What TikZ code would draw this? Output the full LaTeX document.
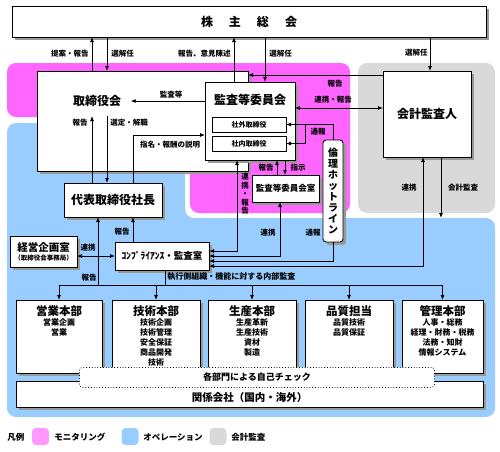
\documentclass[tikz,border=0pt]{standalone}
\usepackage{fontspec}
\setmainfont{Noto Sans CJK JP}
\usetikzlibrary{arrows.meta,shadows}

\definecolor{monpink}{RGB}{255,102,255}
\definecolor{legpink}{RGB}{255,153,255}
\definecolor{opblue}{RGB}{153,204,255}
\definecolor{audgrey}{RGB}{217,217,217}

\newcommand{\orgbig}{\fontsize{12}{14}\selectfont\bfseries}
\newcommand{\orgsmall}{\fontsize{7.5}{9}\selectfont\bfseries}

\tikzset{
  wh/.style 2 args={minimum width=#1pt, minimum height=#2pt},
  orgbox/.style={draw, fill=white, line width=0.9pt, inner sep=0pt, outer sep=0pt,
    anchor=north west, drop shadow={shadow xshift=3pt, shadow yshift=-3pt, fill=black!40, opacity=1}},
  subbox/.style={draw, fill=white, line width=0.8pt, inner sep=0pt, outer sep=0pt, anchor=north west,
    font=\fontsize{7}{8}\selectfont\bfseries},
  lbl/.style={font=\orgsmall, inner sep=0pt},
  divtitle/.style={font=\fontsize{11.5}{13}\selectfont\bfseries, inner sep=0pt},
  divitem/.style={anchor=north, align=center, inner sep=0pt, font=\fontsize{8}{10}\selectfont\bfseries},
  swatch/.style={minimum size=17pt, inner sep=0pt, rounded corners=4pt},
  legtext/.style={anchor=west, inner sep=0pt, font=\fontsize{8.5}{10}\selectfont\bfseries}
}

\begin{document}
\begin{tikzpicture}[x=1pt, y=-1pt, line width=0.8pt, >={Latex[length=5pt,width=4pt]}]
  \useasboundingbox (0,0) rectangle (500,451);

  % areas
  \fill[opblue, rounded corners=9pt] (7,123) -- (185,123) -- (185,218) -- (495,218) -- (495,417) -- (7,417) -- cycle;
  \fill[monpink, rounded corners=9pt] (7,63) -- (350,63) -- (350,213) -- (190,213) -- (190,117) -- (7,117) -- cycle;
  \fill[audgrey, rounded corners=9pt] (358,63) rectangle (495,213);

  % boxes
  \node[orgbox, wh={474}{31}, font=\orgbig] (soukai) at (12,6) {株\hspace{16pt}主\hspace{16pt}総\hspace{16pt}会};
  \node[orgbox, wh={211}{100}] (board) at (37,71) {};
  \node[font=\orgbig] (board-t) at (97,101) {取締役会};
  \node[orgbox, wh={90}{78}] (kansa) at (205,82) {};
  \node[font=\orgbig, inner sep=0pt] (kansa-t) at (250,100) {監査等委員会};
  \node[subbox, wh={74}{15}] (shagai) at (212,117) {社外取締役};
  \node[subbox, wh={74}{15}] (shanai) at (212,136) {社内取締役};
  \node[orgbox, wh={88}{86}, font=\orgbig] (kaikei) at (383,71) {会計監査人};
  \node[orgbox, wh={67}{27}, font=\fontsize{8.5}{10}\selectfont\bfseries] (iinkaishitsu) at (252,175) {監査等委員会室};
  \node[orgbox, wh={20}{102}, rounded corners=3pt, align=center,
    font=\fontsize{10}{11}\selectfont\bfseries] (hotline) at (323,140) {倫\\理\\ホ\\ッ\\ト\\ラ\\イ\\ン};
  \node[orgbox, wh={98}{34}, font=\orgbig] (shacho) at (64,183) {代表取締役社長};
  \node[orgbox, wh={67}{31}, align=center] (kikaku) at (10,236)
    {{\fontsize{10.5}{12}\selectfont\bfseries 経営企画室}\\[-3pt]{\fontsize{6.5}{8}\selectfont\bfseries （取締役会事務局）}};
  \node[orgbox, wh={94}{28}, font=\fontsize{9.5}{11}\selectfont\bfseries] (comp) at (115,242) {ｺﾝﾌﾟﾗｲｱﾝｽ・監査室};

  % divisions
  \node[orgbox, wh={86}{73}] (eigyo) at (16,300) {};
  \node[orgbox, wh={88}{73}] (gijutsu) at (112,300) {};
  \node[orgbox, wh={88}{73}] (seisan) at (208,300) {};
  \node[orgbox, wh={88}{73}] (hinshitsu) at (305,300) {};
  \node[orgbox, wh={81}{73}] (kanri) at (402,300) {};
  \node[divtitle] (eigyo-t) at ([yshift=-11pt]eigyo.north) {営業本部};
  \node[divitem] (eigyo-i) at ([yshift=-18pt]eigyo.north) {営業企画\\営業};
  \node[divtitle] (gijutsu-t) at ([yshift=-11pt]gijutsu.north) {技術本部};
  \node[divitem] (gijutsu-i) at ([yshift=-18pt]gijutsu.north) {技術企画\\技術管理\\安全保証\\商品開発\\技術};
  \node[divtitle] (seisan-t) at ([yshift=-11pt]seisan.north) {生産本部};
  \node[divitem] (seisan-i) at ([yshift=-18pt]seisan.north) {生産革新\\生産技術\\資材\\製造};
  \node[divtitle] (hinshitsu-t) at ([yshift=-11pt]hinshitsu.north) {品質担当};
  \node[divitem] (hinshitsu-i) at ([yshift=-18pt]hinshitsu.north) {品質技術\\品質保証};
  \node[divtitle] (kanri-t) at ([yshift=-11pt]kanri.north) {管理本部};
  \node[divitem] (kanri-i) at ([yshift=-18pt]kanri.north) {人事・総務\\経理・財務・税務\\法務・知財\\情報システム};

  \node[orgbox, wh={467}{26}] (kankei) at (16,381) {};
  \node[font=\fontsize{10.5}{12}\selectfont\bfseries, inner sep=0pt] (kankei-t) at ([yshift=-3pt]kankei.center) {関係会社（国内・海外）};
  \node[draw, dotted, fill=white, rounded corners=3pt, anchor=north west, wh={355}{20}, inner sep=0pt,
    font=\fontsize{9}{10}\selectfont\bfseries] (jiko) at (79,367) {各部門による自己チェック};

  % shareholders
  \draw[->] ([xshift=55pt]board.north west) -- ([xshift=55pt]board.north west |- soukai.south);
  \draw[->] ([xshift=70pt]board.north west |- soukai.south) -- ([xshift=70pt]board.north west);
  \draw[->] ([xshift=29pt]kansa.north west) -- ([xshift=29pt]kansa.north west |- soukai.south);
  \draw[->] ([xshift=60pt]kansa.north west |- soukai.south) -- ([xshift=60pt]kansa.north west);
  \draw[->] ([xshift=47pt]kaikei.north west |- soukai.south) -- ([xshift=47pt]kaikei.north west);

  % monitoring
  \draw[->] ([yshift=-4pt]kaikei.north west) -- ([yshift=-4pt]kaikei.north west -| board.east);
  \draw[<->] ([yshift=-37pt]kaikei.north west) -- ([yshift=-37pt]kaikei.north west -| kansa.east);
  \draw[->] ([yshift=-19pt]kansa.north west) -- ([xshift=6pt]board-t.east);
  \coordinate (board-in) at (0,116);
  \draw[->] ([xshift=28pt]shacho.north west) -- ([xshift=28pt]shacho.north west |- board-in);
  \draw[->] ([xshift=43pt]shacho.north west |- board-in) -- ([xshift=43pt]shacho.north west);
  \draw[->] ([xshift=69pt]shacho.north west) |- ([yshift=-53pt]kansa.north west);
  \draw[->] (hotline.north) |- (shagai.east);
  \draw[->] ([xshift=19pt]shagai.east) |- (shanai.east);
  \draw[->] ([xshift=25pt]iinkaishitsu.north west) -- ([xshift=25pt]iinkaishitsu.north west |- kansa.south);
  \draw[->] ([xshift=33pt]iinkaishitsu.north west |- kansa.south) -- ([xshift=33pt]iinkaishitsu.north west);

  % to compliance
  \draw[<->] ([yshift=-9pt]comp.north east) -| ([xshift=32pt]kansa.south west);
  \draw[<->] ([yshift=-14pt]comp.north east) -| ([xshift=28pt]iinkaishitsu.south west);
  \draw[->] (hotline.south) |- ([yshift=-19pt]comp.north east);
  \draw[<->] ([yshift=-24pt]comp.north east) -| ([xshift=40pt]kaikei.south west);
  \draw[->] ([xshift=58pt]kaikei.south west) -- ++(0,61);
  \draw[->] ([xshift=18pt]comp.north west) -- ([xshift=18pt]comp.north west |- shacho.south);
  \draw[<->] (kikaku.east |- comp.west) -- (comp.west);

  % internal audit
  \coordinate (bus) at ([xshift=50pt, yshift=-15pt]comp.south west);
  \draw ([xshift=50pt]comp.south west) -- (bus);
  \draw (eigyo.north |- bus) -- (kanri.north |- bus);
  \draw[->] (eigyo.north |- bus) -- (eigyo.north);
  \draw[->] (gijutsu.north |- bus) -- (gijutsu.north);
  \draw[->] (seisan.north |- bus) -- (seisan.north);
  \draw[->] (hinshitsu.north |- bus) -- (hinshitsu.north);
  \draw[->] (kanri.north |- bus) -- (kanri.north);
  \draw[->] ([xshift=34pt]shacho.south west |- bus) -- ([xshift=34pt]shacho.south west);

  % labels
  \node[lbl, anchor=east] (teian-l) at (89,54) {提案・報告};
  \node[lbl, anchor=west] (senkai-l1) at (111,54) {選解任};
  \node[lbl, anchor=east] (iken-l) at (231,54) {報告、意見陳述};
  \node[lbl, anchor=west] (senkai-l2) at (269,54) {選解任};
  \node[lbl, anchor=east] (senkai-l3) at (428,53) {選解任};
  \node[lbl] (houkoku-l1) at (335,84) {報告};
  \node[lbl] (renkei-l1) at (333,100) {連携・報告};
  \node[lbl] (kansa-l) at (171,95) {監査等};
  \node[lbl] (houkoku-l2) at (80,123) {報告};
  \node[lbl, anchor=west] (sentei-l) at (110,123) {選定・解職};
  \node[lbl] (shimei-l) at (170,145) {指名・報酬の説明};
  \node[lbl] (tsuho-l1) at (318,132) {通報};
  \node[lbl] (houkoku-l3) at (266,168) {報告};
  \node[lbl] (shiji-l) at (298,168) {指示};
  \node[lbl, align=center, font=\fontsize{7.5}{8.5}\selectfont\bfseries] (renkei-l2) at (245,194) {連\\携\\・\\報\\告};
  \node[lbl] (renkei-l3) at (268,233) {連携};
  \node[lbl] (tsuho-l2) at (313,233) {通報};
  \node[lbl] (renkei-l4) at (409,188) {連携};
  \node[lbl] (kaikeikansa-l) at (463,188) {会計監査};
  \node[lbl] (houkoku-l4) at (122,232) {報告};
  \node[lbl] (renkei-l5) at (88,248) {連携};
  \node[lbl] (houkoku-l5) at (89,278) {報告};
  \node[lbl, anchor=west, font=\fontsize{8}{9}\selectfont\bfseries] (naibu-l) at (167,277) {執行側組織・機能に対する内部監査};

  % legend
  \node[legtext] (leg-t) at (7,437) {凡例};
  \node[swatch, fill=legpink] (leg-mon) at (40.5,436.5) {};
  \node[legtext] (leg-mon-t) at (54,437) {モニタリング};
  \node[swatch, fill=opblue] (leg-op) at (130,436.5) {};
  \node[legtext] (leg-op-t) at (143,437) {オペレーション};
  \node[swatch, fill=audgrey] (leg-aud) at (218,436.5) {};
  \node[legtext] (leg-aud-t) at (231,437) {会計監査};
\end{tikzpicture}
\end{document}
